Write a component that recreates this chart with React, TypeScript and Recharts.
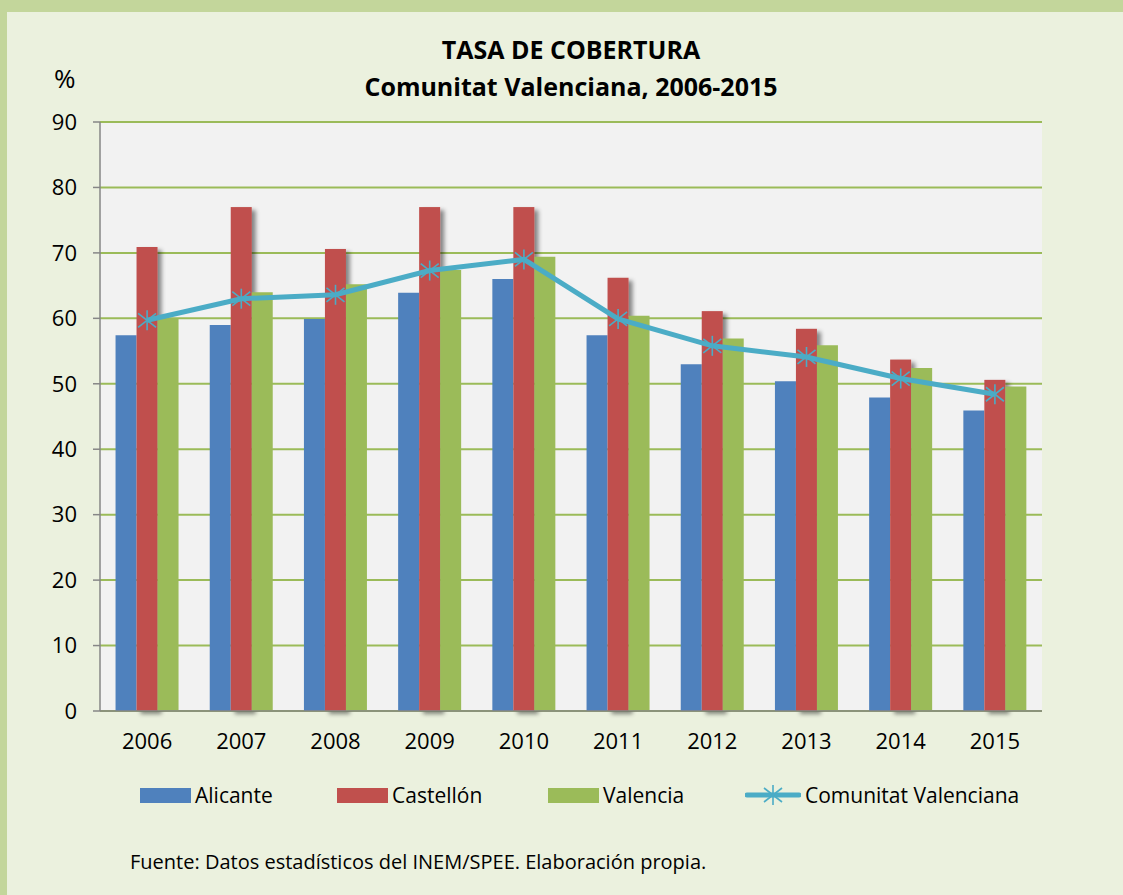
import { ComposedChart, Bar, Line, XAxis, YAxis, CartesianGrid } from "recharts";

const years = ["2006", "2007", "2008", "2009", "2010", "2011", "2012", "2013", "2014", "2015"];
const alicante = [57.4, 59.0, 59.9, 63.9, 66.0, 57.4, 53.0, 50.4, 47.9, 45.9];
const castellon = [70.9, 77.0, 70.6, 77.0, 77.0, 66.2, 61.1, 58.4, 53.7, 50.6];
const valencia = [59.9, 64.0, 65.2, 67.4, 69.4, 60.4, 56.9, 55.9, 52.4, 49.6];
const comunitat = [59.7, 63.0, 63.6, 67.3, 69.0, 59.9, 55.8, 54.1, 50.8, 48.4];
const yTicks = [0, 10, 20, 30, 40, 50, 60, 70, 80, 90];
const edgeTicks = [0, 1, 2, 3, 4, 5, 6, 7, 8, 9, 10];

const BLUE = "#4F81BD";
const RED = "#C0504D";
const GREEN = "#9BBB59";
const AQUA = "#4BACC6";
const FONT = "'Open Sans', sans-serif";

const data = years.map((year, i) => ({
  year,
  alicante: alicante[i],
  castellon: castellon[i],
  valencia: valencia[i],
  comunitat: comunitat[i],
}));

function Asterisk(props: any) {
  const { cx, cy } = props;
  if (cx == null || cy == null) return null;
  return (
    <g stroke={AQUA} strokeWidth={1.6}>
      <line x1={cx} y1={cy - 10} x2={cx} y2={cy + 10} />
      <line x1={cx - 9} y1={cy - 7} x2={cx + 9} y2={cy + 7} />
      <line x1={cx - 9} y1={cy + 7} x2={cx + 9} y2={cy - 7} />
    </g>
  );
}

function ShadowBar(props: any) {
  const { x, y, width, height, fill } = props;
  return <rect x={x} y={y} width={width} height={height} fill={fill} filter="url(#barShadow)" />;
}

const legendItems = [
  { label: "Alicante", color: BLUE, left: 140 },
  { label: "Castellón", color: RED, left: 337 },
  { label: "Valencia", color: GREEN, left: 548 },
];

export default function App() {
  return (
    <div style={{ position: "absolute", left: 0, top: 0, width: 1123, height: 895, background: "#C3D69B", fontFamily: FONT }}>
      <div style={{ position: "absolute", left: 7, top: 12, right: 0, bottom: 0, background: "#EBF1DE" }} />

      <div style={{ position: "absolute", left: 0, width: 1142, top: 31, textAlign: "center", fontWeight: 700, fontSize: 25, lineHeight: "37px", color: "#000" }}>
        <div>TASA DE COBERTURA</div>
        <div>Comunitat Valenciana, 2006-2015</div>
      </div>
      <div style={{ position: "absolute", left: 54, top: 60, fontSize: 26, color: "#000" }}>%</div>

      <ComposedChart
        width={1123}
        height={895}
        data={data}
        margin={{ top: 122, right: 81, left: 40, bottom: 154 }}
        barCategoryGap="16.5%"
        barGap={0}
        style={{ position: "absolute", left: 0, top: 0 }}
      >
        <defs>
          <filter id="barShadow" x="-20%" y="-5%" width="160%" height="115%">
            <feDropShadow dx={4} dy={3} stdDeviation={2.2} floodColor="#000" floodOpacity={0.45} />
          </filter>
        </defs>
        <CartesianGrid vertical={false} stroke={GREEN} strokeWidth={2} fill="#F2F2F2" fillOpacity={1} />
        <XAxis
          xAxisId="edges"
          type="number"
          domain={[0, 10]}
          ticks={edgeTicks}
          height={0}
          axisLine={false}
          tickLine={{ stroke: "#868686", strokeWidth: 1.5 }}
          tickSize={7}
          tickFormatter={() => ""}
        />
        <XAxis
          xAxisId="cat"
          dataKey="year"
          height={30}
          axisLine={{ stroke: "#868686", strokeWidth: 1.5 }}
          tickLine={false}
          tickSize={0}
          tickMargin={22}
          tick={{ fill: "#000", fontSize: 22, fontFamily: FONT }}
        />
        <YAxis
          domain={[0, 90]}
          ticks={yTicks}
          width={60}
          axisLine={{ stroke: "#868686", strokeWidth: 1.5 }}
          tickLine={{ stroke: "#868686", strokeWidth: 1.5 }}
          tickSize={7}
          tickMargin={16}
          tick={{ fill: "#000", fontSize: 22, fontFamily: FONT }}
        />
        <Bar xAxisId="cat" dataKey="alicante" fill={BLUE} isAnimationActive={false} />
        <Bar xAxisId="cat" dataKey="castellon" fill={RED} shape={ShadowBar} isAnimationActive={false} />
        <Bar xAxisId="cat" dataKey="valencia" fill={GREEN} isAnimationActive={false} />
        <Line
          xAxisId="cat"
          dataKey="comunitat"
          stroke={AQUA}
          strokeWidth={5}
          dot={<Asterisk />}
          activeDot={false}
          isAnimationActive={false}
        />
      </ComposedChart>

      {legendItems.map((item) => (
        <div key={item.label} style={{ position: "absolute", left: item.left, top: 780, height: 30, display: "flex", alignItems: "center", fontSize: 21, color: "#000" }}>
          <div style={{ width: 51, height: 15, background: item.color, marginRight: 4 }} />
          <span>{item.label}</span>
        </div>
      ))}
      <div style={{ position: "absolute", left: 745, top: 780, height: 30, display: "flex", alignItems: "center", fontSize: 21, color: "#000" }}>
        <svg width={56} height={24} style={{ marginRight: 4 }}>
          <line x1={2} y1={12} x2={54} y2={12} stroke={AQUA} strokeWidth={5} strokeLinecap="round" />
          <Asterisk cx={28} cy={12} />
        </svg>
        <span>Comunitat Valenciana</span>
      </div>

      <div style={{ position: "absolute", left: 130, top: 848, fontSize: 20, color: "#000" }}>
        Fuente: Datos estadísticos del INEM/SPEE. Elaboración propia.
      </div>
    </div>
  );
}
